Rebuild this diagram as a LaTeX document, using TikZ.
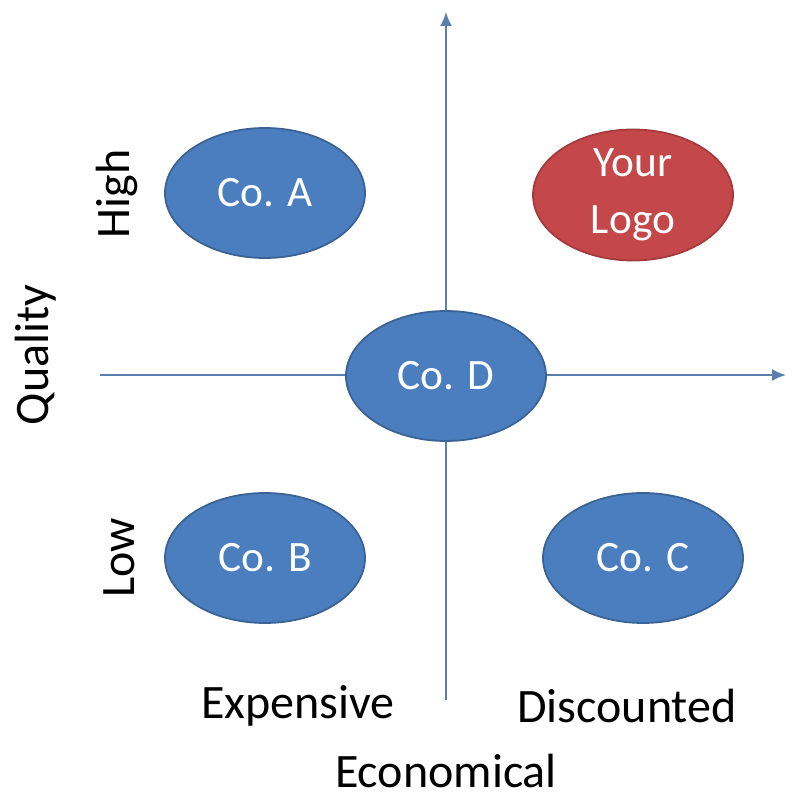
\documentclass[tikz,border=0pt]{standalone}
\usepackage{fontspec}
\setmainfont{Carlito}
\usetikzlibrary{shapes.geometric,arrows.meta}

\definecolor{coblue}{HTML}{4A7EBF}
\definecolor{coblueline}{HTML}{3A6294}
\definecolor{logored}{HTML}{C4474A}
\definecolor{logoredline}{HTML}{A33A3C}
\definecolor{axisblue}{HTML}{5A7FAF}

\tikzset{
    company/.style={ellipse, draw=coblueline, fill=coblue, line width=1.5pt,
        minimum width=6cm, minimum height=3.9cm, inner sep=0pt,
        text=white, font=\fontsize{37}{40}\selectfont, align=center},
    logo/.style={company, draw=logoredline, fill=logored,
        font=\fontsize{37}{49}\selectfont},
    axislabel/.style={font=\fontsize{41}{44}\selectfont, text=black, inner sep=0pt}
}

\begin{document}
\begin{tikzpicture}[x=0.03cm, y=0.03cm]
    \useasboundingbox (0,0) rectangle (792,799);

    % --- Achsen ---
    \coordinate (xstart) at (100,424);
    \coordinate (xend) at (786,424);
    \coordinate (ystart) at (446,99);
    \coordinate (yend) at (446,787);
    \draw[axisblue, line width=1.6pt, -{Latex[length=0.42cm, width=0.36cm]}] (xstart) -- (xend);
    \draw[axisblue, line width=1.6pt, -{Latex[length=0.42cm, width=0.36cm]}] (ystart) -- (yend);

    % --- Unternehmen ---
    \node[company] (coA) at (265,606) {Co. A};
    \node[logo] (logo) at (633,604) {Your\\Logo};
    \node[company] (coD) at (446,423) {Co. D};
    \node[company] (coB) at (265,241) {Co. B};
    \node[company] (coC) at (643,241) {Co. C};

    % --- Beschriftungen ---
    \node[axislabel, rotate=90] (high) at (117,605) {High};
    \node[axislabel, rotate=90] (low) at (119,241) {Low};
    \node[axislabel, rotate=90] (quality) at (36,444) {Quality};
    \node[axislabel] (expensive) at (298,93) {Expensive};
    \node[axislabel] (discounted) at (627,93) {Discounted};
    \node[axislabel] (economical) at (446,28) {Economical};
\end{tikzpicture}
\end{document}
